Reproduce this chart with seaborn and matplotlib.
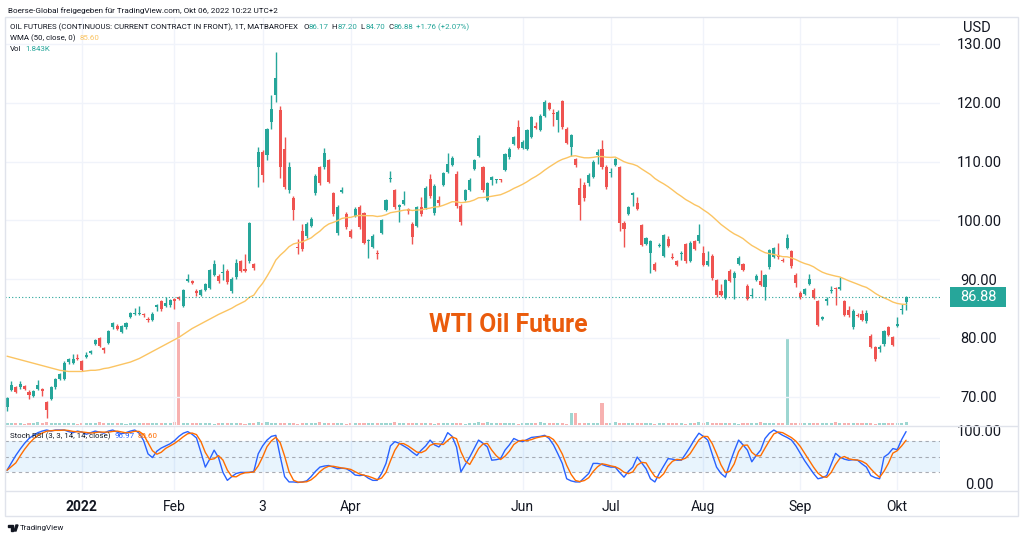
import numpy as np
import pandas as pd
import matplotlib
matplotlib.use("Agg")
import matplotlib.pyplot as plt
import matplotlib.transforms as mtransforms
from matplotlib.patches import Rectangle, Polygon
from matplotlib.lines import Line2D
import seaborn as sns

# daily candles, Dec 2021 .. Okt 06 2022
opens = [
    68.3, 71.2, 71.6, 71.6, 71.8, 70.8, 70.1, 71.3, 71.3, 69.1,
    69.7, 71.6, 73.0, 73.0, 75.9, 75.7, 76.6, 76.0, 76.8, 77.5,
    79.0, 80.0, 78.3, 79.1, 81.8, 82.0, 81.0, 81.8, 83.6, 84.1,
    84.1, 84.0, 83.3, 83.1, 85.2, 86.2, 85.4, 85.6, 86.6, 87.0,
    85.4, 89.7, 89.7, 88.0, 87.3, 88.2, 88.5, 90.7, 90.5, 91.0,
    91.4, 88.0, 90.3, 93.0, 91.8, 93.0, 92.5, 109.1, 111.7, 111.1,
    116.8, 121.3, 118.7, 112.1, 105.2, 103.8, 95.5, 98.2, 97.3, 99.0,
    104.6, 109.0, 109.1, 110.2, 104.6, 97.8, 104.9, 101.1, 98.2, 100.7,
    102.3, 101.2, 96.4, 95.5, 94.4, 97.8, 101.8, 107.1, 105.1, 102.3,
    102.8, 101.9, 99.4, 99.1, 102.2, 102.1, 107.0, 101.3, 103.4, 106.0,
    108.2, 109.4, 107.9, 102.4, 103.5, 105.2, 108.7, 111.0, 109.0, 103.5,
    106.8, 106.8, 106.9, 108.6, 110.7, 113.0, 115.8, 112.3, 112.1, 114.2,
    116.1, 115.4, 117.8, 120.0, 118.2, 117.1, 120.3, 115.5, 112.5, 110.4,
    105.5, 106.0, 106.3, 107.4, 111.1, 112.1, 109.1, 108.1, 109.4, 109.0,
    99.6, 101.1, 104.3, 103.0, 99.2, 96.0, 94.4, 92.6, 95.7, 93.9,
    96.9, 93.7, 93.1, 94.3, 96.0, 93.1, 96.5, 96.4, 94.5, 92.4,
    94.0, 89.9, 87.9, 86.8, 91.4, 90.2, 92.6, 92.6, 88.8, 87.1,
    89.9, 89.7, 88.7, 92.0, 93.8, 94.1, 93.3, 95.3, 94.8, 90.7,
    87.6, 87.5, 89.2, 88.2, 86.2, 83.2, 86.3, 87.9, 88.5, 88.3,
    86.2, 84.8, 81.9, 83.9, 84.1, 82.9, 80.3, 78.4, 78.1, 79.0,
    81.8, 80.1, 82.1, 84.8, 86.17,
]
highs = [
    70.0, 72.7, 71.9, 72.7, 72.0, 71.1, 71.2, 72.9, 71.5, 69.3,
    71.8, 73.2, 74.0, 76.0, 76.6, 77.3, 77.3, 76.2, 77.6, 78.0,
    79.9, 80.2, 78.5, 81.4, 82.7, 82.3, 82.2, 82.7, 84.4, 85.1,
    85.4, 84.3, 83.6, 84.4, 85.8, 86.5, 86.9, 86.7, 86.8, 87.2,
    88.4, 90.8, 89.9, 88.3, 88.4, 89.3, 91.8, 93.3, 90.8, 92.6,
    91.8, 90.3, 93.5, 93.3, 94.2, 99.8, 92.7, 112.4, 112.0, 115.7,
    121.3, 128.7, 119.5, 114.2, 110.0, 104.2, 96.8, 99.3, 99.8, 100.6,
    107.9, 109.3, 112.3, 110.5, 104.9, 102.6, 105.6, 101.4, 98.5, 102.3,
    102.6, 101.5, 96.9, 97.7, 94.9, 100.3, 103.7, 108.4, 105.4, 102.8,
    105.0, 102.1, 99.7, 102.5, 104.0, 105.8, 107.9, 106.1, 104.2, 108.2,
    111.5, 110.9, 108.4, 102.7, 105.4, 107.2, 110.4, 114.5, 109.3, 106.6,
    107.6, 107.1, 107.1, 111.5, 112.4, 114.4, 117.0, 113.6, 115.6, 117.8,
    116.8, 118.0, 120.5, 120.2, 118.9, 118.7, 120.5, 115.8, 114.7, 110.6,
    107.2, 106.5, 108.0, 110.2, 112.2, 113.7, 109.4, 108.9, 110.6, 109.3,
    99.9, 102.5, 104.8, 104.0, 99.4, 97.2, 96.6, 92.9, 96.1, 97.7,
    97.4, 94.5, 93.3, 94.7, 96.2, 96.4, 96.7, 99.4, 95.6, 94.8,
    94.2, 90.1, 89.1, 90.1, 91.7, 91.3, 94.0, 92.8, 89.2, 88.5,
    90.8, 91.5, 90.9, 95.2, 95.5, 96.1, 93.6, 97.7, 95.0, 91.0,
    88.0, 88.5, 90.8, 88.5, 86.4, 83.7, 87.0, 88.8, 88.7, 90.4,
    86.4, 85.5, 84.9, 84.3, 84.8, 84.7, 80.6, 78.7, 78.8, 81.4,
    82.0, 80.4, 83.5, 85.7, 87.20,
]
lows = [
    67.6, 70.9, 70.6, 71.4, 71.2, 69.7, 69.9, 71.1, 70.2, 66.4,
    69.4, 71.4, 72.8, 72.8, 75.6, 75.5, 76.2, 74.4, 76.6, 77.3,
    78.8, 78.4, 77.4, 78.9, 81.6, 81.4, 80.8, 81.6, 83.4, 83.9,
    83.9, 83.5, 82.7, 82.9, 84.6, 84.5, 85.2, 85.2, 84.9, 86.4,
    85.2, 89.5, 89.1, 87.2, 87.1, 88.0, 88.3, 90.5, 89.4, 89.9,
    89.2, 87.6, 90.1, 91.2, 91.2, 92.8, 91.5, 105.7, 106.6, 110.2,
    115.5, 120.2, 107.2, 105.3, 104.6, 100.1, 94.3, 94.8, 97.0, 98.8,
    104.3, 106.0, 108.8, 106.3, 100.8, 97.5, 104.6, 98.6, 97.0, 100.5,
    98.6, 95.9, 93.6, 95.3, 93.5, 97.6, 101.6, 106.5, 102.0, 99.8,
    102.6, 101.0, 96.0, 98.9, 100.8, 101.9, 103.8, 100.9, 102.5, 105.8,
    108.0, 109.2, 102.1, 99.2, 103.3, 105.0, 108.5, 110.8, 104.9, 103.3,
    106.0, 106.3, 106.5, 108.4, 110.5, 112.8, 112.1, 112.1, 111.9, 114.0,
    115.5, 115.2, 117.6, 118.7, 116.1, 115.1, 115.6, 113.0, 111.0, 109.0,
    100.1, 103.3, 105.8, 107.2, 109.5, 108.7, 105.4, 107.4, 109.2, 98.1,
    95.5, 100.9, 102.4, 101.7, 95.6, 95.8, 91.1, 91.4, 95.5, 93.7,
    95.5, 93.4, 92.2, 93.2, 92.8, 92.9, 94.9, 96.2, 92.2, 92.2,
    89.9, 87.0, 87.1, 86.6, 89.5, 86.7, 92.4, 91.4, 86.4, 86.8,
    89.7, 88.8, 86.5, 91.8, 93.6, 93.5, 92.9, 95.1, 91.9, 88.7,
    86.7, 87.3, 89.0, 86.6, 82.0, 83.0, 85.6, 87.7, 85.6, 88.1,
    83.7, 83.6, 81.6, 83.5, 82.9, 82.6, 78.3, 76.0, 77.6, 78.7,
    80.3, 78.6, 81.8, 84.0, 84.70,
]
closes = [
    69.8, 72.0, 70.8, 72.2, 71.4, 70.3, 71.0, 72.0, 70.9, 67.8,
    71.6, 73.0, 73.8, 75.7, 76.4, 76.5, 76.4, 74.6, 77.1, 77.8,
    79.7, 78.6, 78.0, 81.2, 82.5, 81.6, 82.0, 82.5, 84.2, 84.3,
    84.3, 83.9, 83.1, 84.1, 85.6, 84.9, 85.9, 86.5, 86.3, 86.6,
    88.2, 90.1, 89.3, 87.6, 88.2, 89.1, 91.6, 92.6, 89.7, 91.2,
    89.5, 90.0, 92.7, 91.4, 91.4, 99.5, 91.9, 111.7, 107.7, 115.5,
    118.9, 124.2, 109.1, 105.7, 109.0, 101.8, 95.3, 95.1, 99.4, 100.2,
    107.6, 106.4, 111.5, 106.6, 101.1, 102.3, 105.1, 98.9, 97.2, 102.0,
    98.9, 96.2, 96.7, 97.3, 94.2, 100.1, 103.5, 107.2, 102.2, 102.6,
    103.5, 101.6, 97.1, 102.3, 101.1, 105.5, 104.1, 105.9, 103.0, 108.0,
    109.6, 110.6, 102.4, 99.8, 105.2, 106.9, 110.2, 114.0, 105.2, 106.3,
    107.4, 106.9, 106.8, 111.3, 112.2, 114.2, 112.3, 113.4, 115.4, 117.6,
    115.7, 117.8, 120.2, 118.9, 118.1, 118.5, 115.8, 113.2, 114.5, 109.4,
    102.6, 103.8, 107.7, 110.0, 111.7, 109.0, 105.7, 108.2, 110.4, 99.5,
    98.5, 102.3, 104.6, 101.9, 95.8, 97.0, 96.4, 91.6, 95.8, 97.5,
    95.7, 93.6, 92.4, 94.5, 93.0, 96.2, 95.1, 97.5, 92.4, 93.1,
    90.2, 87.3, 87.3, 89.9, 89.7, 91.0, 93.6, 91.6, 86.6, 87.3,
    90.5, 89.0, 90.7, 95.0, 95.3, 93.7, 93.1, 97.0, 92.2, 89.4,
    86.9, 88.3, 90.0, 86.8, 82.2, 83.5, 86.6, 88.2, 88.3, 88.7,
    83.9, 83.9, 84.5, 83.7, 83.1, 84.3, 78.5, 76.4, 78.4, 81.1,
    80.5, 78.8, 82.4, 85.0, 86.88,
]
# volume in thousands
vol_k = [
    1.2, 0.9, 1.4, 1.1, 0.8, 1.3, 1.0, 1.5, 0.9, 1.6,
    1.2, 1.0, 1.3, 0.9, 1.1, 1.4, 0.8, 1.2, 1.0, 1.3,
    1.1, 1.5, 0.9, 1.2, 1.0, 1.4, 1.1, 0.8, 1.3, 1.0,
    1.2, 0.9, 1.4, 1.1, 1.0, 1.3, 0.9, 1.2, 1.5, 60.5,
    1.1, 1.3, 0.9, 1.2, 1.0, 1.4, 1.1, 0.8, 1.3, 1.0,
    1.2, 0.9, 1.4, 1.1, 0.8, 1.3, 1.0, 1.5, 0.9, 1.6,
    1.2, 1.0, 1.3, 0.9, 1.1, 1.4, 0.8, 1.2, 1.0, 1.3,
    1.1, 1.5, 0.9, 1.2, 1.0, 1.4, 1.1, 0.8, 1.3, 1.0,
    1.2, 0.9, 1.4, 1.1, 1.0, 1.3, 0.9, 1.2, 1.5, 1.0,
    1.1, 1.3, 0.9, 1.2, 1.0, 1.4, 1.1, 0.8, 1.3, 1.0,
    1.2, 0.9, 1.4, 1.1, 0.8, 1.3, 1.0, 1.5, 0.9, 1.6,
    1.2, 1.0, 1.3, 0.9, 1.1, 1.4, 0.8, 1.2, 1.0, 1.3,
    1.1, 1.5, 0.9, 1.2, 1.0, 1.4, 1.1, 0.8, 7.1, 7.1,
    1.2, 0.9, 1.4, 1.1, 1.0, 13.0, 0.9, 1.2, 1.5, 1.0,
    1.1, 1.3, 0.9, 1.2, 1.0, 1.4, 1.1, 0.8, 1.3, 1.0,
    1.2, 0.9, 1.4, 1.1, 0.8, 1.3, 1.0, 1.5, 0.9, 1.6,
    1.2, 1.0, 1.3, 0.9, 1.1, 1.4, 0.8, 1.2, 1.0, 1.3,
    1.1, 1.5, 0.9, 1.2, 1.0, 1.4, 1.1, 50.7, 1.3, 1.0,
    1.2, 0.9, 1.4, 1.1, 1.0, 1.3, 0.9, 1.2, 1.5, 1.0,
    1.1, 1.3, 0.9, 1.2, 1.0, 1.4, 1.1, 0.8, 1.3, 1.0,
    1.2, 0.9, 1.4, 1.1, 1.843,
]
# WMA(50) for the first candles (history before the visible range)
wma_head = [
    76.9, 76.7, 76.5, 76.3, 76.1, 75.9, 75.7, 75.5, 75.3, 75.1,
    74.9, 74.7, 74.5, 74.4, 74.3, 74.3, 74.3, 74.3, 74.4, 74.5,
    74.5, 74.6, 74.8, 74.9, 75.1, 75.3, 75.5, 75.7, 75.9, 76.2,
    76.5, 76.9, 77.3, 77.7, 78.1, 78.5, 78.9, 79.3, 79.7, 80.1,
    80.6, 81.1, 81.6, 82.0, 82.4, 82.8, 83.2, 83.6, 84.0,
]
# Stoch RSI %K
stoch_k = [
    24, 38, 52, 64, 75, 84, 90, 95, 98, 100,
    98, 100, 100, 100, 97, 95, 98, 96, 92, 95,
    98, 96, 94, 98, 100, 96, 93, 95, 98, 100,
    94, 80, 55, 48, 60, 66, 70, 74, 80, 88,
    94, 97, 92, 85, 58, 30, 45, 62, 48, 20,
    5, 12, 18, 20, 20, 20, 22, 55, 70, 81,
    88, 90, 50, 12, 2, 2, 1, 2, 4, 12,
    22, 30, 32, 33, 30, 27, 28, 27, 22, 15,
    14, 15, 9, 5, 5, 18, 37, 70, 78, 75,
    70, 65, 58, 52, 62, 70, 81, 72, 68, 78,
    95, 88, 68, 21, 35, 49, 65, 81, 75, 68,
    43, 44, 46, 62, 72, 84, 80, 78, 82, 86,
    87, 88, 90, 84, 72, 55, 37, 8, 4, 2,
    2, 10, 18, 37, 37, 35, 32, 30, 30, 20,
    11, 22, 30, 49, 38, 27, 8, 2, 18, 32,
    46, 45, 43, 43, 55, 68, 82, 94, 88, 81,
    55, 30, 18, 11, 37, 60, 81, 72, 62, 40,
    52, 62, 84, 94, 100, 95, 90, 86, 81, 70,
    56, 42, 30, 18, 8, 10, 14, 35, 56, 49,
    45, 43, 44, 43, 36, 30, 14, 10, 8, 49,
    55, 65, 63, 82, 97,
]
month_labels = ["2022", "Feb", "3", "Apr", "Jun", "Jul", "Aug", "Sep", "Okt"]
month_start = [17, 38, 58, 78, 117, 137, 158, 180, 202]
price_ticks = [70, 80, 90, 100, 110, 120, 130]

GREEN = "#26a69a"
RED = "#ef5350"
TXT = "#131722"
GRID = "#f0f3fa"
WMA_C = "#fbc462"
K_C = "#2962ff"
D_C = "#ff6d00"

sns.set_theme(style="white")
plt.rcParams["font.family"] = ["Roboto", "DejaVu Sans"]

o = np.array(opens)
h = np.array(highs)
l = np.array(lows)
c = np.array(closes)
idx = np.arange(len(c))

# WMA 50 on close
w = np.arange(1, 51)
wma = list(wma_head) + [np.dot(c[i - 49:i + 1], w) / w.sum() for i in range(49, len(c))]
stoch_d = pd.Series(stoch_k, dtype=float).rolling(3, min_periods=1).mean()

W, H = 1024, 540
fig = plt.figure(figsize=(W / 100, H / 100), dpi=100)
fig.patch.set_facecolor("white")


def fx(x):
    return x / W


def fy(y):
    return 1 - y / H


ax = fig.add_axes([fx(5), fy(425), fx(940) - fx(5), fy(18) - fy(425)])
axs = fig.add_axes([fx(5), fy(490), fx(940) - fx(5), fy(427) - fy(490)], sharex=ax)

# volume on its own scale, behind the candles
axv = ax.twinx()
col = np.where(c >= o, GREEN, RED)
axv.bar(idx, vol_k, width=0.7, color=col, alpha=0.45, linewidth=0)
axv.set_ylim(0, 240)
axv.axis("off")
ax.set_zorder(axv.get_zorder() + 1)
ax.patch.set_visible(False)

# candles
ax.vlines(idx, l, h, colors=col, linewidth=1)
body = np.maximum(np.abs(c - o), 0.18)
ax.bar(idx, body, bottom=np.minimum(o, c), width=0.7, color=col, linewidth=0)

sns.lineplot(x=idx, y=wma, ax=ax, color=WMA_C, linewidth=1)
ax.axhline(c[-1], color=GREEN, linestyle=(0, (1, 2)), linewidth=0.8)

ax.set_xlim(-0.45, 211.7)
ax.set_ylim(65.2, 134.4)
ax.yaxis.tick_right()
ax.set_yticks(price_ticks)
ax.set_yticklabels([f"{v:.2f}" for v in price_ticks])
ax.tick_params(axis="y", length=0, pad=28, labelsize=10.5, labelcolor=TXT)
for t in ax.get_yticklabels():
    t.set_horizontalalignment("center")
ax.tick_params(axis="x", length=0, labelbottom=False)
ax.grid(True, color=GRID, linewidth=1)
ax.set_xlabel("")
ax.set_ylabel("")
for s in ax.spines.values():
    s.set_visible(False)

tr = mtransforms.blended_transform_factory(ax.transAxes, ax.transData)
ax.text(0.538, 82.2, "WTI Oil Future", transform=tr,
        ha="center", va="center", fontsize=17.8, fontweight="bold", color="#ea5b0c")

# last price tag
ax.add_patch(Rectangle(((950 - 5) / 935, c[-1] - 1.7), 56 / 935, 3.4, transform=tr,
                       facecolor=GREEN, edgecolor="none", clip_on=False))
ax.text((978 - 5) / 935, c[-1], f"{c[-1]:.2f}", transform=tr, ha="center", va="center",
        color="white", fontsize=10.5, clip_on=False)

# stoch rsi pane
axs.axhspan(20, 80, color="#2196f3", alpha=0.1, linewidth=0)
for lvl in (20, 50, 80):
    axs.axhline(lvl, color="#9598a1", linestyle=(0, (3, 3)), linewidth=0.8, alpha=0.8)
sns.lineplot(x=idx, y=stoch_k, ax=axs, color=K_C, linewidth=1)
sns.lineplot(x=idx, y=stoch_d.values, ax=axs, color=D_C, linewidth=1)
axs.set_ylim(-13.2, 105.7)
axs.yaxis.tick_right()
axs.set_yticks([0, 100])
axs.set_yticklabels(["0.00", "100.00"])
axs.tick_params(axis="y", length=0, pad=28, labelsize=10.5, labelcolor=TXT)
for t in axs.get_yticklabels():
    t.set_horizontalalignment("center")
axs.set_xticks(month_start)
axs.set_xticklabels(month_labels)
axs.tick_params(axis="x", length=0, pad=7, labelsize=10, labelcolor=TXT)
axs.get_xticklabels()[0].set_fontweight("bold")
axs.grid(True, axis="x", color=GRID, linewidth=1)
axs.grid(False, axis="y")
axs.set_xlabel("")
axs.set_ylabel("")
for s in axs.spines.values():
    s.set_visible(False)

# frame and pane separators
fig.patches.append(Rectangle((fx(5), fy(516)), fx(1018) - fx(5), fy(17) - fy(516), transform=fig.transFigure,
                             fill=False, edgecolor="#e0e3eb", linewidth=1))
fig.lines.append(Line2D([fx(5), fx(1018)], [fy(426), fy(426)], transform=fig.transFigure, color="#e0e3eb", linewidth=1))
fig.lines.append(Line2D([fx(5), fx(1018)], [fy(491), fy(491)], transform=fig.transFigure, color="#e0e3eb", linewidth=1))

renderer = fig.canvas.get_renderer()


def text_row(x, y, parts, size):
    for s, colr, gap in parts:
        t = fig.text(fx(x), fy(y), s, color=colr, fontsize=size, ha="left", va="center")
        x += t.get_window_extent(renderer).width + gap


fig.text(fx(8), fy(11), "Boerse-Global freigegeben für TradingView.com, Okt 06, 2022 10:22 UTC+2",
         fontsize=5.9, color=TXT, ha="left", va="center")
text_row(10, 27, [("OIL FUTURES (CONTINUOUS: CURRENT CONTRACT IN FRONT), 1T, MATBAROFEX", TXT, 5),
                  ("O", TXT, 0.5), ("86.17", GREEN, 3), ("H", TXT, 0.5), ("87.20", GREEN, 3),
                  ("L", TXT, 0.5), ("84.70", GREEN, 3), ("C", TXT, 0.5), ("86.88", GREEN, 3),
                  ("+1.76 (+2.07%)", GREEN, 0)], 5.7)
text_row(10, 38, [("WMA (50, close, 0)", TXT, 4), ("85.60", WMA_C, 0)], 5.7)
text_row(10, 49, [("Vol", TXT, 4), ("1.843K", GREEN, 0)], 5.7)
text_row(10, 436, [("Stoch RSI (3, 3, 14, 14, close)", TXT, 4), ("96.97", K_C, 3), ("80.60", D_C, 0)], 5.7)
fig.text(fx(977), fy(28), "USD", fontsize=10.5, color=TXT, ha="center", va="center")

# little logo + name at the bottom
fig.patches.append(Rectangle((fx(8), fy(527)), 4.5 / W, 2 / H, transform=fig.transFigure, color=TXT))
fig.patches.append(Rectangle((fx(10.5), fy(531)), 2 / W, 4 / H, transform=fig.transFigure, color=TXT))
fig.patches.append(Polygon([(fx(14), fy(531)), (fx(16), fy(525)), (fx(18), fy(525)), (fx(16), fy(531))],
                           closed=True, transform=fig.transFigure, color=TXT))
fig.text(fx(20), fy(528), "TradingView", fontsize=5.8, color=TXT, ha="left", va="center")

fig.savefig("out.png", dpi=100)
